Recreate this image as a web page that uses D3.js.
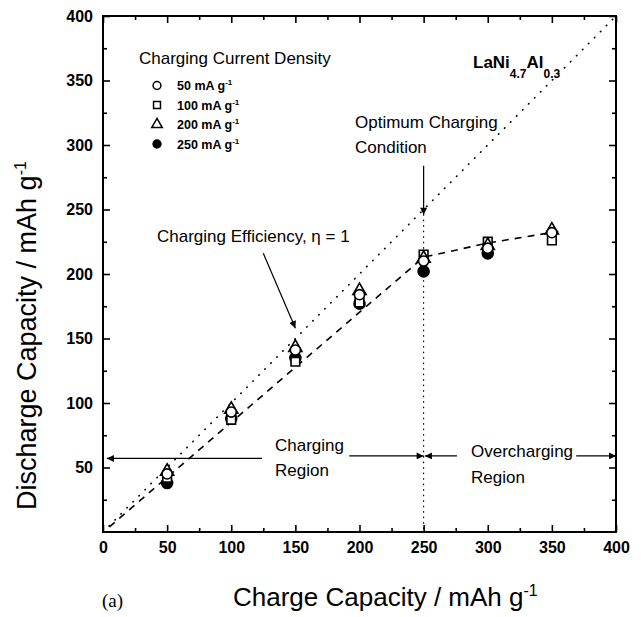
<!DOCTYPE html>
<html>
<head>
<meta charset="utf-8">
<script src="https://cdn.jsdelivr.net/npm/d3@7"></script>
<style>
  body { margin: 0; background: #fff; }
  svg text { font-family: "Liberation Sans", Arial, Helvetica, sans-serif; fill: #000; }
</style>
</head>
<body>
<div id="chart"></div>
<script>
// charge capacity (mAh/g) at which each discharge was measured
const chargeCap = [50, 100, 150, 200, 250, 300, 350];

// discharge capacity for each charging current density
const dis50 = [45, 93, 141, 184, 210, 220, 232];
const dis100 = [42, 87, 132, 178, 215, 225, 226];
const dis200 = [47, 95, 143, 187, 212, 222, 234];
const dis250 = [38, 88, 135, 177, 202, 216, null];

// dashed trend line through the data
const fitX = [5, 250, 300, 355];
const fitY = [4, 213, 224, 233];

// efficiency = 1 line
const idealX = [0, 400];

const xTicks = [0, 50, 100, 150, 200, 250, 300, 350, 400];
const yTicks = [50, 100, 150, 200, 250, 300, 350, 400];
const minorTicks = [25, 75, 125, 175, 225, 275, 325, 375];

const legendLabels = ["50", "100", "200", "250"];

const W = 641;
const H = 617;
const margin = { left: 103, top: 16, right: 25, bottom: 85 };
const width = W - margin.left - margin.right;
const height = H - margin.top - margin.bottom;

const svg = d3
  .select("#chart")
  .append("svg")
  .attr("width", W)
  .attr("height", H);

svg
  .append("defs")
  .append("marker")
  .attr("id", "arrow")
  .attr("viewBox", "0 0 10 10")
  .attr("refX", 10)
  .attr("refY", 5)
  .attr("markerWidth", 11)
  .attr("markerHeight", 7)
  .attr("markerUnits", "userSpaceOnUse")
  .attr("orient", "auto")
  .append("path")
  .attr("d", "M0,0 L10,5 L0,10 Z")
  .attr("fill", "#000");

const g = svg
  .append("g")
  .attr("transform", `translate(${margin.left}, ${margin.top})`);

const x = d3.scaleLinear().domain([0, 400]).range([0, width]);
const y = d3.scaleLinear().domain([0, 400]).range([height, 0]);

/* axes, ticks point inward on all four sides */
const styleAxis = (sel) => {
  sel.select(".domain").remove();
  sel.selectAll("line").attr("stroke", "#000").attr("stroke-width", 1.6);
  sel.selectAll("text")
    .style("font-size", "16px")
    .style("font-weight", "bold")
    .attr("fill", "#000");
};

g.append("g")
  .attr("transform", `translate(0, ${height})`)
  .call(d3.axisBottom(x).tickValues(xTicks).tickSize(-7).tickPadding(10))
  .call(styleAxis);
g.append("g")
  .attr("transform", `translate(0, ${height})`)
  .call(d3.axisBottom(x).tickValues(minorTicks).tickSize(-4).tickFormat(""))
  .call(styleAxis);

g.append("g")
  .call(d3.axisLeft(y).tickValues(yTicks).tickSize(-7).tickPadding(10))
  .call(styleAxis);
g.append("g")
  .call(d3.axisLeft(y).tickValues(minorTicks).tickSize(-4).tickFormat(""))
  .call(styleAxis);

g.append("g")
  .call(d3.axisTop(x).tickValues(xTicks).tickSize(-7).tickFormat(""))
  .call(styleAxis);
g.append("g")
  .call(d3.axisTop(x).tickValues(minorTicks).tickSize(-4).tickFormat(""))
  .call(styleAxis);

g.append("g")
  .attr("transform", `translate(${width}, 0)`)
  .call(d3.axisRight(y).tickValues(yTicks).tickSize(-7).tickFormat(""))
  .call(styleAxis);
g.append("g")
  .attr("transform", `translate(${width}, 0)`)
  .call(d3.axisRight(y).tickValues(minorTicks).tickSize(-4).tickFormat(""))
  .call(styleAxis);

g.append("rect")
  .attr("width", width)
  .attr("height", height)
  .attr("fill", "none")
  .attr("stroke", "#000")
  .attr("stroke-width", 2);

/* lines */
const line = d3
  .line()
  .x((d) => x(d[0]))
  .y((d) => y(d[1]));

g.append("path")
  .attr("d", line(idealX.map((v) => [v, v])))
  .attr("fill", "none")
  .attr("stroke", "#000")
  .attr("stroke-width", 1.6)
  .attr("stroke-linecap", "round")
  .attr("stroke-dasharray", "0.5,8");

g.append("path")
  .attr("d", line(fitX.map((v, i) => [v, fitY[i]])))
  .attr("fill", "none")
  .attr("stroke", "#000")
  .attr("stroke-width", 1.6)
  .attr("stroke-dasharray", "7,6");

// vertical dotted line at the optimum
g.append("line")
  .attr("x1", x(250))
  .attr("x2", x(250))
  .attr("y1", y(246))
  .attr("y2", y(0))
  .attr("stroke", "#000")
  .attr("stroke-width", 1.2)
  .attr("stroke-linecap", "round")
  .attr("stroke-dasharray", "0.5,5");

/* annotations */
const arrow = (x1, y1, x2, y2) =>
  g.append("line")
    .attr("x1", x(x1))
    .attr("y1", y(y1))
    .attr("x2", x(x2))
    .attr("y2", y(y2))
    .attr("stroke", "#000")
    .attr("stroke-width", 1.2)
    .attr("marker-end", "url(#arrow)");

arrow(250, 284, 250, 246);
arrow(125, 216, 150, 158);
arrow(124, 57, 3, 57);
arrow(192, 59, 250, 59);
arrow(276, 59, 251, 59);
arrow(369, 59, 400, 59);

const label = (px, py, txt, size) =>
  svg.append("text")
    .attr("x", px)
    .attr("y", py)
    .style("font-size", size + "px")
    .text(txt);

label(355, 128, "Optimum Charging", 17);
label(355, 153, "Condition", 17);
label(157, 242, "Charging Efficiency, \u03b7 = 1", 17);
label(275, 451, "Charging", 17);
label(275, 476, "Region", 17);
label(471, 457, "Overcharging", 17);
label(471, 483, "Region", 17);

// alloy formula
const formula = svg
  .append("text")
  .attr("x", 473)
  .attr("y", 68)
  .style("font-size", "17px")
  .style("font-weight", "bold");
formula.append("tspan").text("LaNi");
formula.append("tspan").attr("dy", 10).style("font-size", "12px").text("4.7");
formula.append("tspan").attr("dy", -10).text("Al");
formula.append("tspan").attr("dy", 10).style("font-size", "12px").text("0.3");

/* markers */
const sym = d3.symbol();
const markers = [
  { data: dis250, shape: d3.symbolCircle, size: 95, fill: "#000" },
  { data: dis100, shape: d3.symbolSquare, size: 75, fill: "#fff" },
  { data: dis200, shape: d3.symbolTriangle, size: 75, fill: "#fff" },
  { data: dis50, shape: d3.symbolCircle, size: 80, fill: "#fff" },
];

markers.forEach((m) => {
  g.append("g")
    .selectAll("path")
    .data(chargeCap.map((c, i) => [c, m.data[i]]).filter((d) => d[1] != null))
    .enter()
    .append("path")
    .attr("transform", (d) => `translate(${x(d[0])}, ${y(d[1])})`)
    .attr("d", sym.type(m.shape).size(m.size)())
    .attr("fill", m.fill)
    .attr("stroke", "#000")
    .attr("stroke-width", 1.6);
});

/* legend */
label(139, 64, "Charging Current Density", 17);
const legendShapes = [d3.symbolCircle, d3.symbolSquare, d3.symbolTriangle, d3.symbolCircle];
const legendFill = ["#fff", "#fff", "#fff", "#000"];
legendLabels.forEach((lab, i) => {
  const ly = 90 + i * 19.5;
  svg.append("path")
    .attr("transform", `translate(157, ${ly - 4.5})`)
    .attr("d", sym.type(legendShapes[i]).size(48)())
    .attr("fill", legendFill[i])
    .attr("stroke", "#000")
    .attr("stroke-width", 1.5);
  const t = svg.append("text")
    .attr("x", 177)
    .attr("y", ly)
    .style("font-size", "12.5px")
    .style("font-weight", "bold");
  t.append("tspan").text(lab + " mA g");
  t.append("tspan").attr("dy", -5).style("font-size", "8px").text("-1");
});

/* axis titles */
const xt = svg
  .append("text")
  .attr("x", 233)
  .attr("y", 606)
  .style("font-size", "26px");
xt.append("tspan").text("Charge Capacity / mAh g");
xt.append("tspan").attr("dy", -10).style("font-size", "16px").text("-1");

const yt = svg
  .append("text")
  .attr("transform", "translate(36, 510) rotate(-90)")
  .style("font-size", "27px");
yt.append("tspan").text("Discharge Capacity / mAh g");
yt.append("tspan").attr("dy", -10).style("font-size", "16px").text("-1");

svg.append("text")
  .attr("x", 102)
  .attr("y", 607)
  .style("font-family", "'Liberation Serif', 'Times New Roman', serif")
  .style("font-size", "19px")
  .text("(a)");
</script>
</body>
</html>
